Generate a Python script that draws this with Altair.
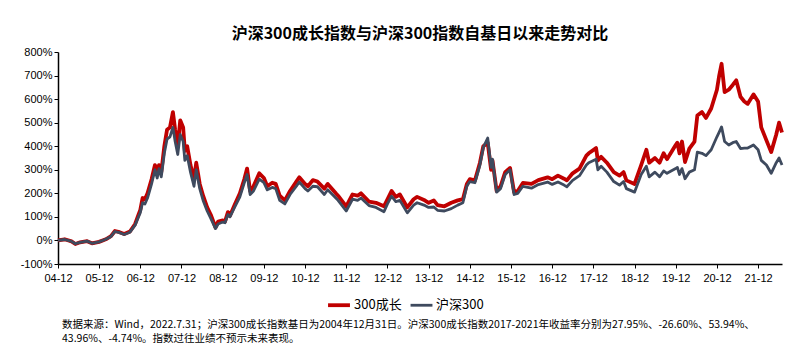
import altair as alt
import pandas as pd

dates = [
    "2004-12-31","2005-02-28","2005-04-30","2005-06-03","2005-07-15","2005-09-15","2005-10-28","2005-12-30",
    "2006-02-28","2006-04-15","2006-05-20","2006-06-30","2006-08-10","2006-09-30","2006-11-15","2006-12-15",
    "2006-12-31","2007-01-20","2007-02-10","2007-03-05","2007-04-10","2007-05-10","2007-05-30","2007-06-15",
    "2007-07-05","2007-08-01","2007-08-25","2007-09-20","2007-10-16","2007-11-05","2007-11-28","2007-12-20",
    "2008-01-15","2008-01-30","2008-02-20","2008-03-20","2008-04-20","2008-05-10","2008-06-10","2008-07-10",
    "2008-08-15","2008-09-15","2008-10-28","2008-11-20","2008-12-31","2009-01-20","2009-02-15","2009-03-05",
    "2009-04-15","2009-06-01","2009-07-10","2009-08-04","2009-08-31","2009-09-30","2009-11-20","2009-12-31",
    "2010-01-30","2010-03-15","2010-04-15","2010-05-20","2010-07-05","2010-08-20","2010-10-15","2010-11-10",
    "2010-12-31","2011-01-25","2011-03-10","2011-04-20","2011-06-20","2011-07-20","2011-09-30","2011-10-20",
    "2011-12-31","2012-02-25","2012-04-10","2012-05-10","2012-07-20","2012-09-20","2012-11-30","2012-12-31",
    "2013-02-05","2013-03-15","2013-04-20","2013-06-25","2013-08-20","2013-09-20","2013-11-20","2013-12-31",
    "2014-02-15","2014-03-20","2014-05-20","2014-07-20","2014-09-15","2014-10-31","2014-12-05","2014-12-31",
    "2015-02-15","2015-03-31","2015-04-30","2015-06-08","2015-07-08","2015-07-20","2015-08-26","2015-09-30",
    "2015-11-10","2015-12-23","2016-01-28","2016-02-29","2016-04-15","2016-06-30","2016-08-30","2016-11-20",
    "2016-12-31","2017-02-20","2017-04-15","2017-05-10","2017-06-30","2017-08-30","2017-10-30","2017-11-20",
    "2018-01-24","2018-02-09","2018-03-10","2018-04-30","2018-06-30","2018-08-20","2018-09-25","2018-10-20",
    "2018-12-31","2019-02-28","2019-04-15","2019-05-10","2019-06-30","2019-08-10","2019-09-15","2019-10-15",
    "2019-12-31","2020-01-15","2020-02-03","2020-02-25","2020-03-23","2020-04-30","2020-06-15","2020-07-10",
    "2020-08-20","2020-09-25","2020-11-10","2020-12-31","2021-01-20","2021-02-10","2021-03-09","2021-04-15",
    "2021-05-20","2021-06-20","2021-07-28","2021-08-31","2021-09-30","2021-11-20","2021-12-31","2022-01-28",
    "2022-03-15","2022-04-26","2022-06-10","2022-07-05","2022-07-31",
]

growth = [
    0, 5, -4, -15, -8, -3, -12, -6,
    5, 18, 40, 35, 27, 38, 70, 110,
    130, 180, 175, 200, 260, 320, 290, 320,
    290, 400, 470, 480, 545, 470, 400, 510,
    480, 380, 400, 320, 260, 330, 240, 190,
    140, 110, 55, 80, 85, 80, 120, 105,
    150, 200, 260, 305, 210, 230, 285, 265,
    230, 245, 240, 190, 170, 210, 250, 268,
    240, 230, 256, 250, 220, 240, 200, 190,
    145, 195, 190, 200, 165, 160, 145, 175,
    210, 185, 195, 140, 175, 185, 172, 160,
    170, 150, 145, 160, 170, 175, 240, 260,
    255, 330, 400, 415, 300, 340, 210, 230,
    290, 308, 205, 210, 244, 240, 256, 268,
    260, 275, 262, 255, 285, 305, 360, 370,
    392, 340, 355, 330, 290, 275, 290, 255,
    240, 320, 385, 330, 350, 330, 370, 345,
    405, 415, 370, 420, 333, 390, 420, 530,
    545, 520, 560, 640, 700, 750, 630, 640,
    660, 680, 610, 590, 580, 620, 590, 480,
    425, 375, 450, 500, 458,
]

hs300 = [
    0, 4, -4, -14, -8, -3, -12, -6,
    5, 17, 38, 33, 25, 35, 65, 100,
    118, 160, 155, 180, 240, 300, 265, 305,
    270, 370, 430, 440, 480, 420, 365, 450,
    420, 340, 360, 290, 230, 300, 220, 170,
    125, 95, 50, 70, 78, 75, 110, 100,
    140, 185, 245, 280, 195, 210, 260, 245,
    215, 225, 220, 170, 155, 195, 230, 248,
    220, 210, 230, 228, 195, 215, 180, 170,
    125, 175, 170, 180, 148, 140, 122, 155,
    188, 165, 170, 117, 150, 160, 150, 140,
    142, 128, 125, 135, 150, 160, 230, 250,
    245, 320, 395, 435, 310, 345, 205, 220,
    280, 300, 195, 200, 230, 222, 237, 248,
    238, 248, 235, 228, 255, 275, 320, 330,
    345, 300, 315, 290, 250, 235, 250, 220,
    205, 280, 315, 270, 290, 270, 295, 285,
    305, 310, 280, 305, 262, 290, 300, 375,
    370, 360, 385, 440, 460, 482, 420, 405,
    415, 420, 390, 392, 392, 405, 385, 340,
    320, 285, 330, 350, 320,
]

series_names = ["300成长", "沪深300"]
series_colors = ["#C00000", "#3E4A5E"]

y_ticks = [-100, 0, 100, 200, 300, 400, 500, 600, 700, 800]
x_tick_years = list(range(2004, 2022))

title_text = "沪深300成长指数与沪深300指数自基日以来走势对比"
note_lines = [
    "数据来源：Wind，2022.7.31；沪深300成长指数基日为2004年12月31日。沪深300成长指数2017-2021年收益率分别为27.95%、-26.60%、53.94%、",
    "43.96%、-4.74%。指数过往业绩不预示未来表现。",
]

df = pd.concat([
    pd.DataFrame({"date": dates, "value": growth, "series": series_names[0], "order": 0}),
    pd.DataFrame({"date": dates, "value": hs300, "series": series_names[1], "order": 1}),
])

W, H = 724, 212
FONT = "Liberation Sans"
CJK = "Noto Sans CJK SC"

x_enc = alt.X(
    "date:T",
    scale=alt.Scale(type="utc", domain=[alt.DateTime(year=2004, month=12, date=31, utc=True),
                                        alt.DateTime(year=2022, month=7, date=31, utc=True)]),
    axis=alt.Axis(
        title=None,
        labelExpr="utcFormat(datum.value, '%y-%m')",
        values=[alt.DateTime(year=y, month=12, date=31, utc=True) for y in x_tick_years],
        labelFontSize=11, labelColor="black", labelFont=FONT,
        domainColor="black", domainWidth=1.5, tickColor="black", tickSize=4,
        grid=False, labelPadding=4, labelFlush=False, labelOverlap=False,
    ),
)
y_enc = alt.Y(
    "value:Q",
    scale=alt.Scale(domain=[-100, 800], nice=False, zero=False),
    axis=alt.Axis(
        title=None, values=y_ticks, labelExpr="datum.value + '%'",
        labelFontSize=11, labelColor="black", labelFont=FONT,
        domainColor="black", domainWidth=1.5, tickColor="black", tickSize=4,
        grid=False, labelPadding=2,
    ),
)

lines = alt.Chart(df).mark_line(strokeJoin="round").encode(
    x=x_enc,
    y=y_enc,
    color=alt.Color(
        "series:N",
        scale=alt.Scale(domain=series_names, range=series_colors),
        legend=alt.Legend(
            title=None, orient="none", direction="horizontal",
            legendX=268, legendY=240,
            symbolType="stroke", symbolSize=480, symbolStrokeWidth=3,
            labelFontSize=13, labelFont=CJK, labelColor="black",
            columnPadding=2, labelOffset=2,
        ),
    ),
    strokeWidth=alt.StrokeWidth("series:N", scale=alt.Scale(domain=series_names, range=[3.8, 2.8]), legend=None),
    order=alt.Order("order:Q"),
    detail="series:N",
)

note1 = alt.Chart(pd.DataFrame({"text": [note_lines[0]]})).mark_text(
    align="left", baseline="middle", fontSize=10.5, font=CJK, color="black"
).encode(x=alt.value(4), y=alt.value(273), text="text:N")

note2 = alt.Chart(pd.DataFrame({"text": [note_lines[1]]})).mark_text(
    align="left", baseline="middle", fontSize=10.5, font=CJK, color="black"
).encode(x=alt.value(4), y=alt.value(287), text="text:N")

chart = alt.layer(lines, note1, note2).properties(
    width=W, height=H,
    autosize=alt.AutoSizeParams(type="none"),
    padding={"left": 50, "top": 44, "right": 10, "bottom": 85},
    title=alt.TitleParams(title_text, anchor="middle", fontSize=16, font=CJK, fontWeight="bold",
                          color="black", offset=4),
).configure_view(stroke=None)

chart.save("out.html", embed_options={"renderer": "svg", "actions": False})
